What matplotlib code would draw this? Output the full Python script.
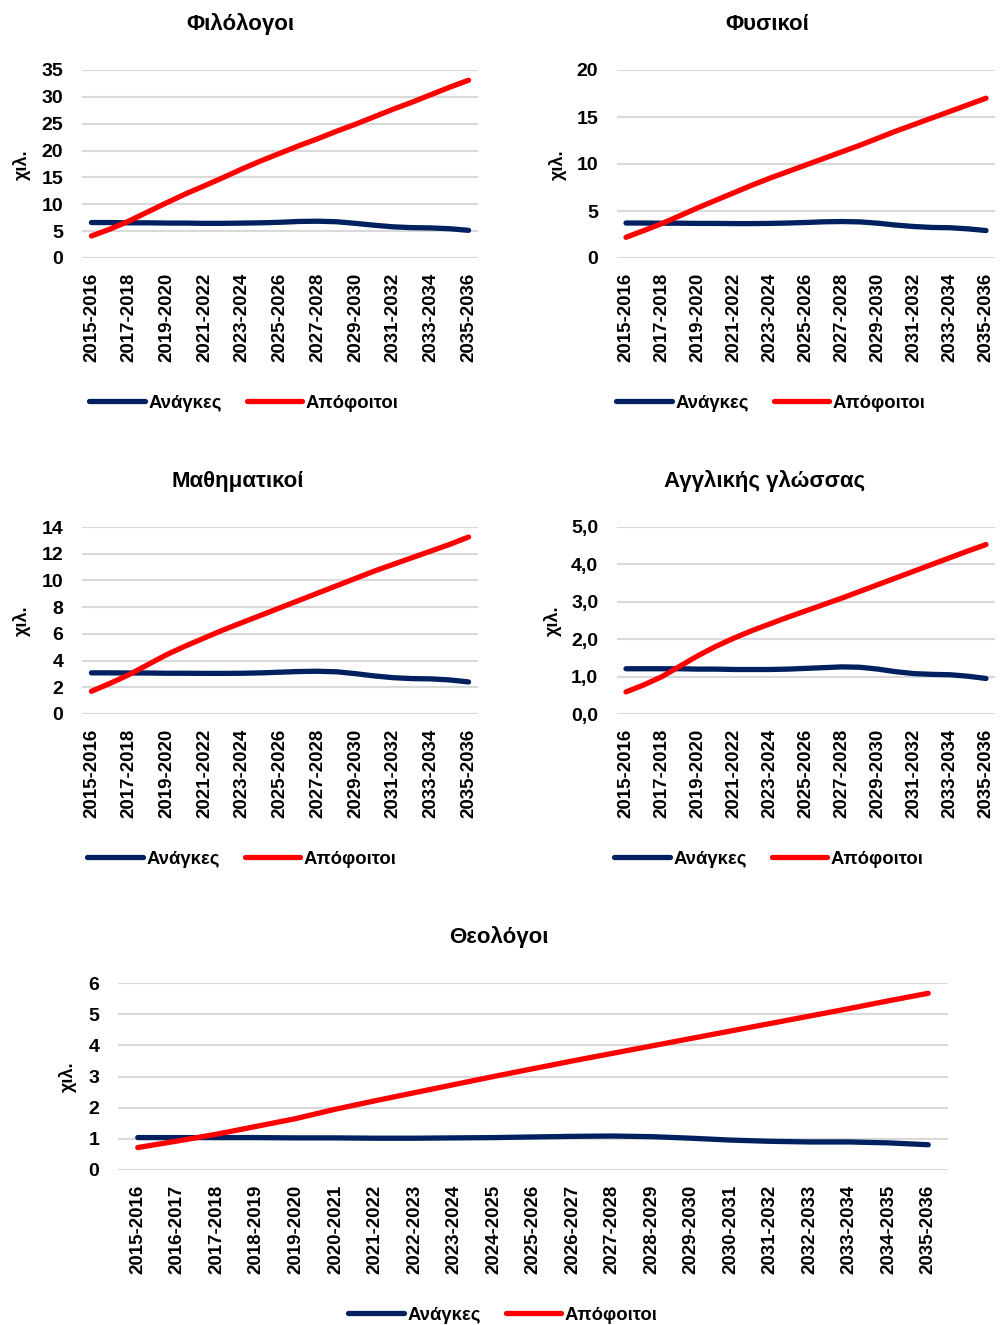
import numpy as np
import matplotlib
matplotlib.use("Agg")
import matplotlib.pyplot as plt

plt.rcParams['font.family'] = ['Liberation Sans', 'DejaVu Sans']
plt.rcParams['font.weight'] = 'bold'

# --- data (thousands) ---
years = [f"{y}-{y + 1}" for y in range(2015, 2036)]

fil_needs = [6.6, 6.6, 6.55, 6.55, 6.5, 6.5, 6.45, 6.45, 6.5, 6.55, 6.65, 6.8, 6.85, 6.75, 6.45, 6.1, 5.8, 5.65, 5.6, 5.45, 5.15]
fil_grads = [4.1, 5.4, 6.9, 8.6, 10.3, 11.95, 13.45, 15.0, 16.6, 18.1, 19.5, 20.9, 22.2, 23.6, 24.9, 26.3, 27.7, 29.0, 30.4, 31.8, 33.1]

fys_needs = [3.72, 3.72, 3.7, 3.7, 3.68, 3.68, 3.66, 3.66, 3.68, 3.72, 3.78, 3.85, 3.88, 3.84, 3.7, 3.5, 3.35, 3.25, 3.22, 3.1, 2.92]
fys_grads = [2.2, 2.93, 3.67, 4.5, 5.35, 6.15, 6.95, 7.75, 8.5, 9.2, 9.9, 10.6, 11.3, 12.0, 12.75, 13.5, 14.2, 14.9, 15.6, 16.3, 17.0]

mat_needs = [3.08, 3.08, 3.07, 3.07, 3.05, 3.05, 3.04, 3.04, 3.05, 3.08, 3.13, 3.18, 3.2, 3.16, 3.02, 2.85, 2.72, 2.65, 2.63, 2.55, 2.4]
mat_grads = [1.7, 2.3, 2.95, 3.7, 4.45, 5.1, 5.7, 6.3, 6.85, 7.4, 7.95, 8.5, 9.05, 9.6, 10.15, 10.7, 11.2, 11.7, 12.2, 12.7, 13.25]

eng_needs = [1.21, 1.21, 1.21, 1.21, 1.2, 1.2, 1.19, 1.19, 1.19, 1.2, 1.22, 1.24, 1.26, 1.25, 1.2, 1.13, 1.08, 1.06, 1.05, 1.01, 0.95]
eng_grads = [0.59, 0.78, 1.0, 1.28, 1.56, 1.81, 2.03, 2.23, 2.41, 2.59, 2.76, 2.93, 3.1, 3.28, 3.46, 3.64, 3.82, 4.0, 4.18, 4.36, 4.53]

the_needs = [1.04, 1.04, 1.04, 1.04, 1.03, 1.03, 1.02, 1.02, 1.03, 1.04, 1.06, 1.08, 1.09, 1.07, 1.02, 0.96, 0.92, 0.9, 0.9, 0.87, 0.81]
the_grads = [0.72, 0.93, 1.15, 1.4, 1.65, 1.95, 2.22, 2.48, 2.74, 3.0, 3.25, 3.5, 3.74, 3.98, 4.22, 4.46, 4.7, 4.94, 5.18, 5.43, 5.67]

NAVY = '#002060'
RED = '#ff0000'
W, H = 1000, 1325

fig = plt.figure(figsize=(10, 13.25), dpi=100)


def px_axes(x0, y0, x1, y1):
    return fig.add_axes([x0 / W, 1 - y1 / H, (x1 - x0) / W, (y1 - y0) / H])


def draw(ax, needs, grads, title, yticks, ylabels, tick_step, title_xy, ylab_xy, leg_xy):
    x = np.arange(len(years))
    ax.plot(x, needs, color=NAVY, lw=3.8, solid_capstyle='round', clip_on=False, label='Ανάγκες')
    ax.plot(x, grads, color=RED, lw=3.8, solid_capstyle='round', clip_on=False, label='Απόφοιτοι')
    ax.set_xlim(-0.5, len(years) - 0.5)
    ax.set_ylim(yticks[0], yticks[-1])
    ax.set_yticks(yticks)
    ax.set_yticklabels(ylabels, fontsize=14, fontweight='bold')
    ax.set_xticks(x[::tick_step])
    ax.set_xticklabels(years[::tick_step], rotation=90, fontsize=13.5, fontweight='bold')
    ax.tick_params(axis='both', length=0)
    ax.tick_params(axis='y', pad=13.5)
    ax.tick_params(axis='x', pad=10.5)
    ax.grid(axis='y', color='#d9d9d9', lw=1.5)
    ax.set_axisbelow(True)
    for s in ax.spines.values():
        s.set_visible(False)
    fig.text(title_xy[0] / W, 1 - title_xy[1] / H, title, ha='center', va='center',
             fontsize=16, fontweight='bold')
    fig.text(ylab_xy[0] / W, 1 - ylab_xy[1] / H, 'χιλ.', ha='center', va='center',
             rotation=90, fontsize=13, fontweight='bold')
    fig.legend(*ax.get_legend_handles_labels(), loc='center', ncol=2,
               bbox_to_anchor=(leg_xy[0] / W, 1 - leg_xy[1] / H), frameon=False,
               handlelength=3.0, handletextpad=0.2, columnspacing=1.35,
               prop={'size': 13.3, 'weight': 'bold'})


ax1 = px_axes(82, 70, 478, 258)
draw(ax1, fil_needs, fil_grads, 'Φιλόλογοι', [0, 5, 10, 15, 20, 25, 30, 35],
     ['0', '5', '10', '15', '20', '25', '30', '35'], 2, (240, 24), (22, 165), (244, 403))

ax2 = px_axes(617, 70, 995, 258)
draw(ax2, fys_needs, fys_grads, 'Φυσικοί', [0, 5, 10, 15, 20],
     ['0', '5', '10', '15', '20'], 2, (767, 24), (558, 165), (771, 403))

ax3 = px_axes(82, 527, 478, 714)
draw(ax3, mat_needs, mat_grads, 'Μαθηματικοί', [0, 2, 4, 6, 8, 10, 12, 14],
     ['0', '2', '4', '6', '8', '10', '12', '14'], 2, (238, 481), (22, 621), (242, 859))

ax4 = px_axes(617, 527, 995, 714)
draw(ax4, eng_needs, eng_grads, 'Αγγλικής γλώσσας', [0, 1, 2, 3, 4, 5],
     ['0,0', '1,0', '2,0', '3,0', '4,0', '5,0'], 2, (765, 481), (553, 621), (769, 859))

ax5 = px_axes(118, 983, 948, 1170)
draw(ax5, the_needs, the_grads, 'Θεολόγοι', [0, 1, 2, 3, 4, 5, 6],
     ['0', '1', '2', '3', '4', '5', '6'], 1, (499, 937), (68, 1077), (503, 1315))

fig.savefig('out.png', dpi=100)
